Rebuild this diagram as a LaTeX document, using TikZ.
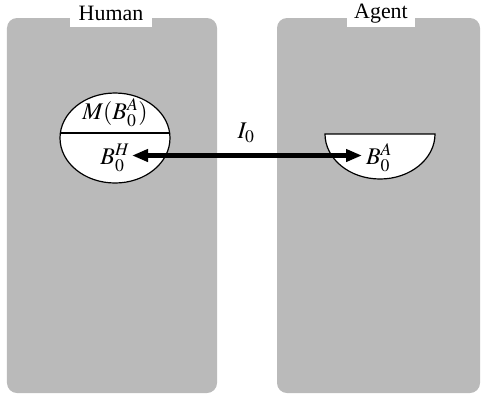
\documentclass[tikz,border=0pt]{standalone}
\usepackage{mathptmx}
\usepackage{fontspec}
\setmainfont{Liberation Serif}
\usetikzlibrary{arrows.meta,shapes.geometric}
\definecolor{panelgray}{RGB}{186,186,186}
\tikzset{
  panel/.style={fill=panelgray,draw=none,rounded corners=10bp,inner sep=0pt},
  lbl/.style={fill=white,inner sep=0pt,minimum height=27bp,font=\fontsize{22}{24}\selectfont},
  mathlbl/.style={inner sep=0pt,font=\fontsize{24}{26}\selectfont},
  bubble/.style={draw=black,line width=1.2bp,fill=white},
  link/.style={line width=5bp,{Triangle[length=16bp,width=12bp]}-{Triangle[length=16bp,width=12bp]}}
}
\begin{document}
\begin{tikzpicture}[x=1bp,y=-1bp]
\useasboundingbox (0,0) rectangle (482,398);
% panels
\node[panel,minimum width=210bp,minimum height=375bp] (human) at (112,205.5) {};
\node[panel,minimum width=203bp,minimum height=375bp] (agent) at (378.5,205.5) {};
\node[lbl,minimum width=82bp] (humanlbl) at (111,13.5) {Human};
\node[lbl,minimum width=68bp] (agentlbl) at (381,13.5) {Agent};
% human ellipse
\node[bubble,ellipse,minimum width=110bp,minimum height=90bp,inner sep=0pt] (ell) at (115,138) {};
\coordinate (chl) at (60.3,133);
\coordinate (chr) at (169.7,133);
\draw[line width=1.2bp] (chl) -- (chr);
\node[mathlbl] (mba) at (115,113) {$M(B_0^A)$};
\node[mathlbl] (bh) at (115,158) {$B_0^H$};
% agent half ellipse
\coordinate (hl) at (325,134);
\coordinate (hr) at (435,134);
\draw[bubble] (hl) arc[start angle=180,end angle=360,x radius=55,y radius=-45] -- cycle;
\node[mathlbl] (ba) at (379,158) {$B_0^A$};
% arrow
\coordinate (al) at (132,155.5);
\coordinate (ar) at (362,155.5);
\draw[link] (al) -- (ar);
\node[mathlbl] (io) at (246,133) {$I_0$};
\end{tikzpicture}
\end{document}
